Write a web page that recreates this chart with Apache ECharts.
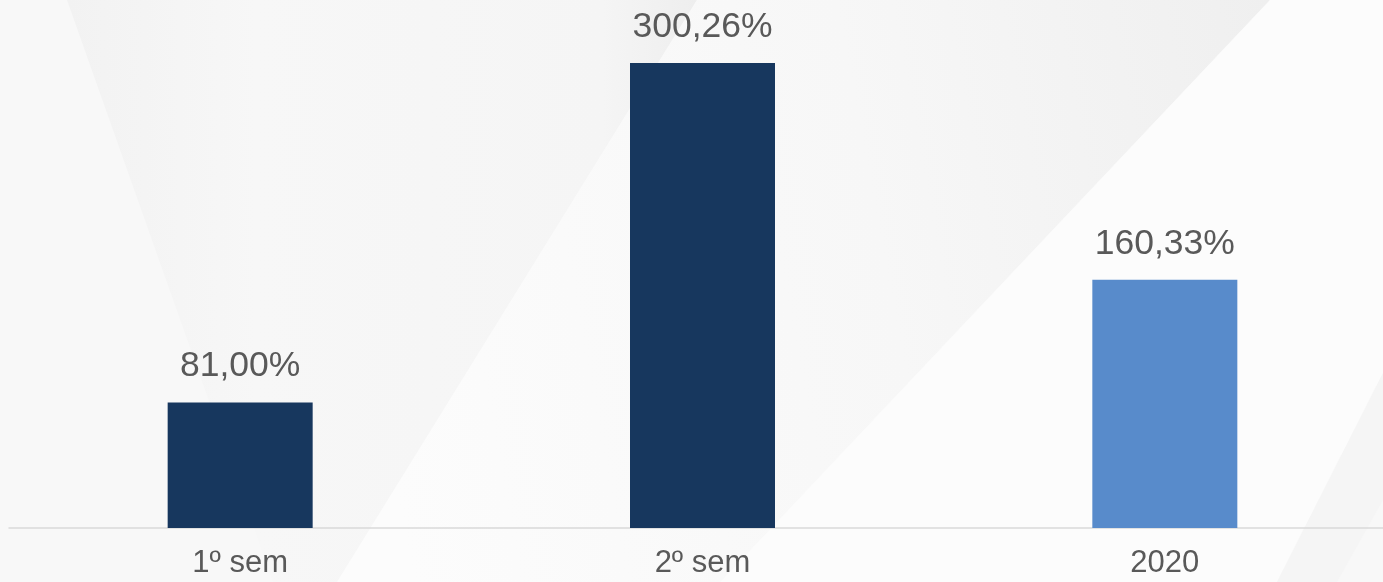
<!DOCTYPE html>
<html>
<head>
<meta charset="utf-8">
<style>
  html, body { margin: 0; padding: 0; background: #f8f8f8; }
  #chart { width: 1383px; height: 582px; }
</style>
<script src="https://cdn.jsdelivr.net/npm/echarts@6/dist/echarts.min.js"></script>
</head>
<body>
<div id="chart"></div>
<script>
// Periods and their percentage values
const categories = ['1º sem', '2º sem', '2020'];
const values = [81.00, 300.26, 160.33];
const barColors = ['#17375e', '#17375e', '#588bcb'];

const FONT = '"Liberation Sans", Arial, sans-serif';

function formatPct(v) {
  return v.toFixed(2).replace('.', ',') + '%';
}

const chart = echarts.init(document.getElementById('chart'));

// Soft folded-paper backdrop
const backdrop = [
  { type: 'rect', shape: { x: 0, y: 0, width: 1383, height: 582 }, style: { fill: '#f8f8f8' }, z: -10 },
  {
    type: 'polygon', z: -9,
    shape: { points: [[67, 0], [697, 0], [337, 582], [273, 582]] },
    style: {
      fill: new echarts.graphic.LinearGradient(0, 0, 1, 0, [
        { offset: 0, color: '#f2f2f2' },
        { offset: 0.3, color: '#f7f7f7' },
        { offset: 0.85, color: '#f5f5f5' },
        { offset: 1, color: '#eeeeee' }
      ])
    }
  },
  {
    type: 'polygon', z: -9,
    shape: { points: [[697, 0], [1270, 0], [720, 582], [337, 582]] },
    style: {
      fill: new echarts.graphic.LinearGradient(0, 0.3, 1, 0, [
        { offset: 0, color: '#fcfcfc' },
        { offset: 0.55, color: '#f7f7f7' },
        { offset: 1, color: '#efefef' }
      ])
    }
  },
  {
    type: 'polygon', z: -9,
    shape: { points: [[1270, 0], [1383, 0], [1383, 373], [1277, 582], [720, 582]] },
    style: { fill: '#fcfcfc' }
  },
  {
    type: 'polygon', z: -9,
    shape: { points: [[1383, 373], [1383, 500], [1337, 582], [1277, 582]] },
    style: { fill: '#f5f5f5' }
  }
];

chart.setOption({
  backgroundColor: 'transparent',
  animation: false,
  graphic: backdrop,
  grid: { left: 9, width: 1387, top: 0, bottom: 54, outerBoundsMode: 'none', containLabel: false },
  xAxis: {
    type: 'category',
    data: categories,
    axisLine: { show: true, lineStyle: { color: '#d9d9d9', width: 1.5 } },
    axisTick: { show: false },
    axisLabel: {
      color: '#595959',
      fontFamily: FONT,
      fontSize: 31,
      margin: 20
    }
  },
  yAxis: {
    type: 'value',
    min: 0,
    max: 341,
    show: false,
    splitLine: { show: false }
  },
  series: [{
    type: 'bar',
    barWidth: 145,
    data: values.map((v, i) => ({
      value: v,
      itemStyle: { color: barColors[i] }
    })),
    label: {
      show: true,
      position: 'top',
      distance: 18,
      color: '#595959',
      fontFamily: FONT,
      fontSize: 35.5,
      formatter: p => formatPct(p.value)
    }
  }]
});
</script>
</body>
</html>
